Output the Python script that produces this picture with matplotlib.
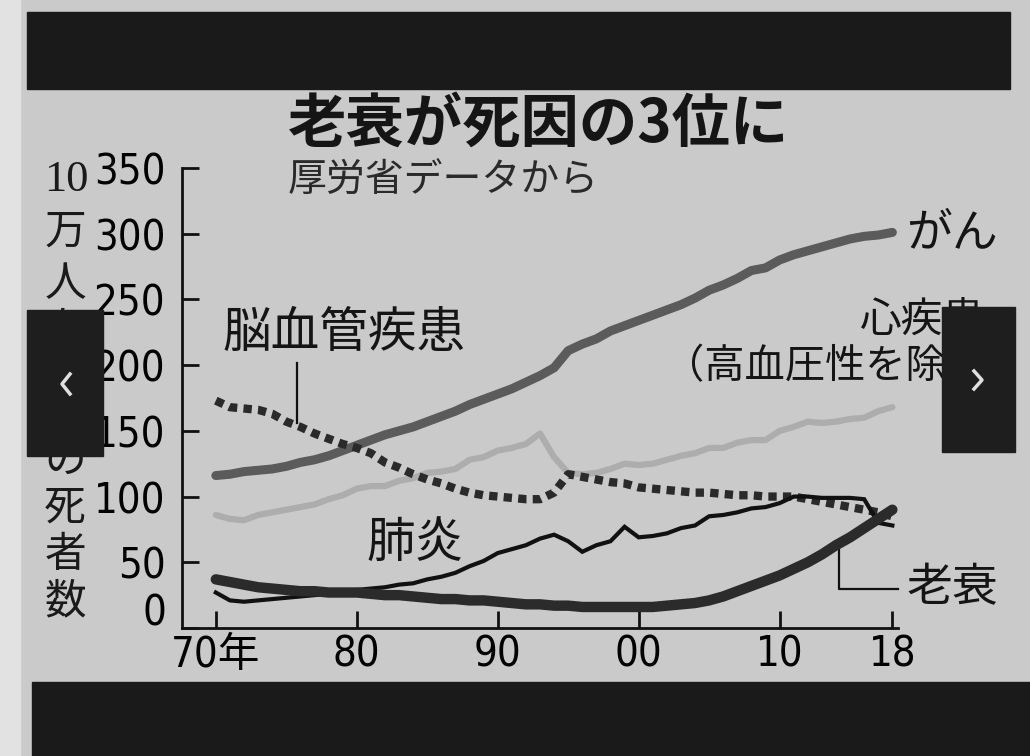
import matplotlib
matplotlib.use("Agg")
import matplotlib.pyplot as plt
from matplotlib import font_manager as fm
from matplotlib.patches import Rectangle
from matplotlib.lines import Line2D

# --- data, deaths per 100k people ---
years = list(range(1970, 2019))
cancer = [116, 117, 119, 120, 121, 123, 126, 128, 131, 135,
          139, 143, 147, 150, 153, 157, 161, 165, 170, 174,
          178, 182, 187, 192, 198, 211, 216, 220, 226, 230,
          234, 238, 242, 246, 251, 257, 261, 266, 272, 274,
          280, 284, 287, 290, 293, 296, 298, 299, 301]
heart = [86, 83, 82, 86, 88, 90, 92, 94, 98, 101,
         106, 108, 108, 112, 114, 118, 119, 121, 128, 130,
         135, 137, 140, 148, 130, 118, 117, 118, 121, 125,
         124, 125, 128, 131, 133, 137, 137, 141, 143, 143,
         150, 153, 157, 156, 157, 159, 160, 165, 168]
stroke = [173, 168, 167, 166, 163, 157, 153, 148, 144, 140,
          137, 133, 126, 122, 117, 113, 110, 106, 103, 101,
          100, 99, 98, 98, 103, 117, 115, 113, 111, 110,
          107, 106, 105, 104, 103, 103, 102, 101, 101, 100,
          100, 100, 98, 96, 94, 92, 90, 88, 85]
pneumonia = [27, 21, 20, 21, 22, 23, 24, 25, 26, 27,
             29, 30, 31, 33, 34, 37, 39, 42, 47, 51,
             57, 60, 63, 68, 71, 66, 58, 63, 66, 77,
             69, 70, 72, 76, 78, 85, 86, 88, 91, 92,
             95, 100, 100, 99, 99, 99, 98, 80, 78]
senility = [37, 35, 33, 31, 30, 29, 28, 28, 27, 27,
            27, 26, 25, 25, 24, 23, 22, 22, 21, 21,
            20, 19, 18, 18, 17, 17, 16, 16, 16, 16,
            16, 16, 17, 18, 19, 21, 24, 28, 32, 36,
            40, 45, 50, 56, 63, 69, 76, 83, 90]

xticks = [1970, 1980, 1990, 2000, 2010, 2018]
xticklabels = ["70年", "80", "90", "00", "10", "18"]
yticks = [0, 50, 100, 150, 200, 250, 300, 350]

W, H = 1030, 756
JP = ["Noto Sans CJK JP", "DejaVu Sans"]

# the numbers are set in a narrow face in the original; use one if we have it
fonts = fm.fontManager.ttflist
names = {f.name for f in fonts}
num_stretch = "normal"
if "Liberation Sans Narrow" in names:
    NUM = ["Liberation Sans Narrow", "Noto Sans CJK JP"]
    num_size = 34
elif any(f.name == "DejaVu Sans" and f.stretch == "condensed" for f in fonts):
    NUM = ["DejaVu Sans", "Noto Sans CJK JP"]
    num_stretch = "condensed"
    num_size = 30
else:
    NUM = ["Roboto", "Noto Sans CJK JP"]
    num_size = 31


def px(x, y):
    return x / W, 1 - y / H


fig = plt.figure(figsize=(W / 100, H / 100), dpi=100)
fig.patch.set_facecolor("#cacaca")

# screen frame bits: light bezel at left, black bars, nav buttons
fig.add_artist(Rectangle(px(0, H), 20 / W, 1, transform=fig.transFigure,
                         color="#e2e2e2", zorder=0))
fig.add_artist(Rectangle(px(27, 89), 983 / W, 77 / H, transform=fig.transFigure,
                         color="#1a1a1a", zorder=10))
fig.add_artist(Rectangle(px(32, H), 1, 74 / H, transform=fig.transFigure,
                         color="#1a1a1a", zorder=10))
fig.add_artist(Rectangle(px(27, 456), 76 / W, 146 / H, transform=fig.transFigure,
                         color="#1e1e1e", zorder=10))
fig.add_artist(Rectangle(px(942, 452), 73 / W, 145 / H, transform=fig.transFigure,
                         color="#1e1e1e", zorder=10))
for pts in ([(70, 374), (62, 384), (70, 394)], [(974, 371), (982, 380), (974, 389)]):
    xs, ys = zip(*[px(a, b) for a, b in pts])
    fig.add_artist(Line2D(xs, ys, transform=fig.transFigure, color="#e0e0e0",
                          lw=2.5, zorder=11))

ax = fig.add_axes([182 / W, 1 - 628 / H, (898 - 182) / W, (628 - 168) / H])
ax.set_facecolor("none")
ax.set_xlim(1967.6, 2018.4)
ax.set_ylim(0, 350)

ax.plot(years, heart, color="#adadad", lw=4.5, solid_capstyle="round", zorder=2)
ax.plot(years, cancer, color="#5b5b5b", lw=6.5, solid_capstyle="round", zorder=3)
ax.plot(years, stroke, color="#2a2a2a", lw=6, linestyle=(0, (1, 0.75)),
        dash_capstyle="butt", zorder=4)
ax.plot(years, pneumonia, color="#111111", lw=3, solid_joinstyle="miter", zorder=5)
ax.plot(years, senility, color="#2b2b2b", lw=7.5, solid_capstyle="round", zorder=6)

# leader lines
ax.plot([1975.75, 1975.75], [202, 156], color="#111111", lw=1.6, zorder=4)
ax.plot([2014.2, 2014.2, 2018.4], [61, 29.7, 29.7], color="#111111", lw=1.6,
        clip_on=False, zorder=5)

for s in ["top", "right"]:
    ax.spines[s].set_visible(False)
for s in ["left", "bottom"]:
    ax.spines[s].set_linewidth(2)
    ax.spines[s].set_color("#111111")

ax.set_xticks(xticks)
ax.set_xticklabels(xticklabels, fontfamily=NUM, fontsize=num_size, fontstretch=num_stretch)
ax.set_yticks(yticks)
ax.set_yticklabels([""] + [str(v) for v in yticks[1:]], fontfamily=NUM,
                   fontsize=num_size, fontstretch=num_stretch)
ax.tick_params(axis="both", direction="in", length=12, width=2, color="#111111")
ax.tick_params(axis="y", pad=12)
ax.tick_params(axis="x", pad=4)
fig.text(*px(166, 613), "0", fontfamily=NUM, fontsize=num_size, fontstretch=num_stretch,
         ha="right", va="center")

# titles
fig.text(*px(539, 125), "老衰が死因の3位に", fontfamily=JP, fontsize=42,
         fontweight="bold", ha="center", va="center", color="#151515")
fig.text(*px(288, 180), "厚労省データから", fontfamily=JP, fontsize=28,
         ha="left", va="center", color="#2a2a2a")

# y axis label, written vertically
fig.text(*px(66, 180), "10", fontfamily=["Liberation Serif", "DejaVu Serif"],
         fontsize=32, ha="center", va="center", color="#1a1a1a")
ylab = "万人あたりの死者数"
ypos = [232, 285, 329, 373, 417, 461, 508, 555, 602]
for ch, yy in zip(ylab, ypos):
    fig.text(*px(65, yy), ch, fontfamily=JP, fontsize=30, ha="center", va="center",
             color="#1a1a1a")

# series labels
kw = dict(fontfamily=JP, color="#151515", va="center")
fig.text(*px(906, 233), "がん", fontsize=33, ha="left", **kw)
fig.text(*px(860, 320), "心疾患", fontsize=30, ha="left", **kw)
fig.text(*px(664, 367), "（高血圧性を除く）", fontsize=29, ha="left", **kw)
fig.text(*px(222, 333), "脳血管疾患", fontsize=35, ha="left", **kw)
fig.text(*px(366, 543), "肺炎", fontsize=35, ha="left", **kw)
fig.text(*px(906, 588), "老衰", fontsize=33, ha="left", **kw)

fig.savefig("out.png", dpi=100, facecolor=fig.get_facecolor())
